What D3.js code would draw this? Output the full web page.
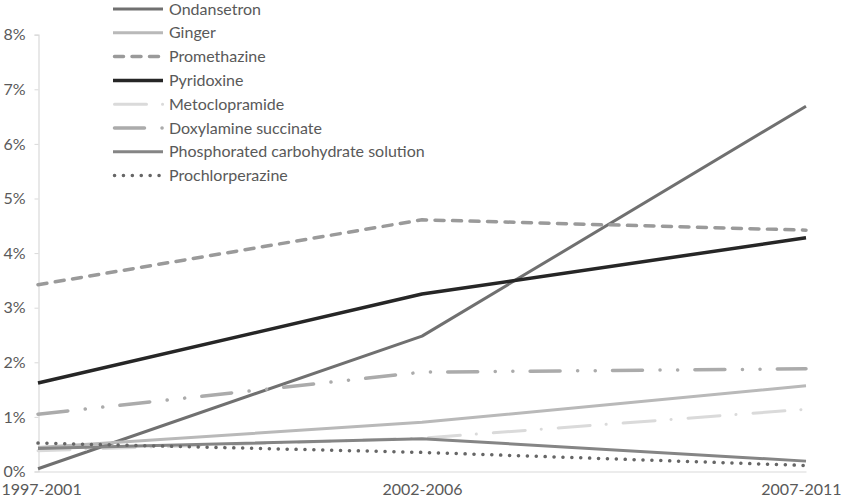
<!DOCTYPE html>
<html>
<head>
<meta charset="utf-8">
<script src="https://cdn.jsdelivr.net/npm/d3@7"></script>
<style>
  body { margin: 0; background: #fff; }
  svg { display: block; font-family: Lato, "Open Sans", sans-serif; }
</style>
</head>
<body>
<div id="vis"></div>
<script>
// data (percent)
const periods = ["1997-2001", "2002-2006", "2007-2011"];
const drugs = [
  "Ondansetron", "Ginger", "Promethazine", "Pyridoxine",
  "Metoclopramide", "Doxylamine succinate",
  "Phosphorated carbohydrate solution", "Prochlorperazine"
];
const ondansetron = [0.05, 2.48, 6.69];
const ginger = [0.44, 0.9, 1.57];
const promethazine = [3.42, 4.61, 4.42];
const pyridoxine = [1.62, 3.25, 4.28];
const metoclopramide = [0.38, 0.61, 1.14];
const doxylamine = [1.05, 1.82, 1.88];
const phosphorated = [0.42, 0.6, 0.19];
const prochlorperazine = [0.52, 0.35, 0.11];
const yTicks = [0, 1, 2, 3, 4, 5, 6, 7, 8];

const values = [ondansetron, ginger, promethazine, pyridoxine,
  metoclopramide, doxylamine, phosphorated, prochlorperazine];

// line styles per series
const styles = [
  { color: "#707070", dash: null, w: 3 },
  { color: "#b9b9b9", dash: null, w: 3 },
  { color: "#9a9a9a", dash: "9,8.5", w: 3.5 },
  { color: "#262626", dash: null, w: 3.5 },
  { color: "#dadada", dash: "32,16,0.1,17", w: 3 },
  { color: "#ababab", dash: "30,17.5,0.1,17.5,0.1,17.2", w: 3.5 },
  { color: "#858585", dash: null, w: 3 },
  { color: "#666666", dash: "0.1,8.8", w: 3.5 }
];

const W = 844, H = 498;
const textColor = "#595959";

const x = d3.scalePoint().domain(periods).range([38, 806]);
const y = d3.scaleLinear().domain([0, 8]).range([471.5, 34.7]);

const svg = d3.select("#vis").append("svg")
  .attr("width", W)
  .attr("height", H);

// y axis
const yAxis = d3.axisLeft(y)
  .tickValues(yTicks)
  .tickFormat(d => d + "%")
  .tickSize(4)
  .tickPadding(9);

const gy = svg.append("g")
  .attr("transform", "translate(38.5,0)")
  .call(yAxis);
gy.select(".domain").attr("stroke", "#d9d9d9").attr("stroke-width", 1.2);
gy.selectAll(".tick line").attr("stroke", "#d9d9d9");
gy.selectAll(".tick text")
  .attr("fill", textColor)
  .style("font-size", "16px")
  .style("font-family", "Lato, sans-serif");

// x axis
const gx = svg.append("g")
  .attr("transform", `translate(0,${y(0)})`)
  .call(d3.axisBottom(x).tickSize(0).tickPadding(12));
gx.select(".domain").attr("stroke", "#d9d9d9").attr("stroke-width", 1.2);
gx.selectAll(".tick text")
  .attr("fill", textColor)
  .style("font-size", "16px")
  .style("font-family", "Lato, sans-serif")
  .attr("text-anchor", (d, i) => i === 0 ? "start" : i === periods.length - 1 ? "end" : "middle")
  .attr("x", (d, i) => i === 0 ? 1 - x(d) : i === periods.length - 1 ? (W - 3) - x(d) : 0);

// series lines
const line = d3.line()
  .x((d, i) => x(periods[i]))
  .y(d => y(d));

svg.append("g")
  .selectAll("path")
  .data(values)
  .join("path")
  .attr("d", d => line(d))
  .attr("fill", "none")
  .attr("stroke", (d, i) => styles[i].color)
  .attr("stroke-width", (d, i) => styles[i].w)
  .attr("stroke-dasharray", (d, i) => styles[i].dash)
  .attr("stroke-linecap", (d, i) => styles[i].dash ? "round" : "butt")
  .attr("stroke-linejoin", "round");

// legend
const legend = svg.append("g")
  .attr("transform", "translate(113,9)");

const rows = legend.selectAll("g")
  .data(drugs)
  .join("g")
  .attr("transform", (d, i) => `translate(0,${i * 23.8})`);

rows.append("line")
  .attr("x1", (d, i) => styles[i].dash ? 1.5 : 0)
  .attr("x2", 50)
  .attr("y1", 0)
  .attr("y2", 0)
  .attr("stroke", (d, i) => styles[i].color)
  .attr("stroke-width", (d, i) => styles[i].w)
  .attr("stroke-dasharray", (d, i) => styles[i].dash)
  .attr("stroke-linecap", (d, i) => styles[i].dash ? "round" : "butt");

rows.append("text")
  .attr("x", 56)
  .attr("y", 0)
  .attr("dy", "0.35em")
  .attr("fill", textColor)
  .style("font-size", "16px")
  .text(d => d);
</script>
</body>
</html>
